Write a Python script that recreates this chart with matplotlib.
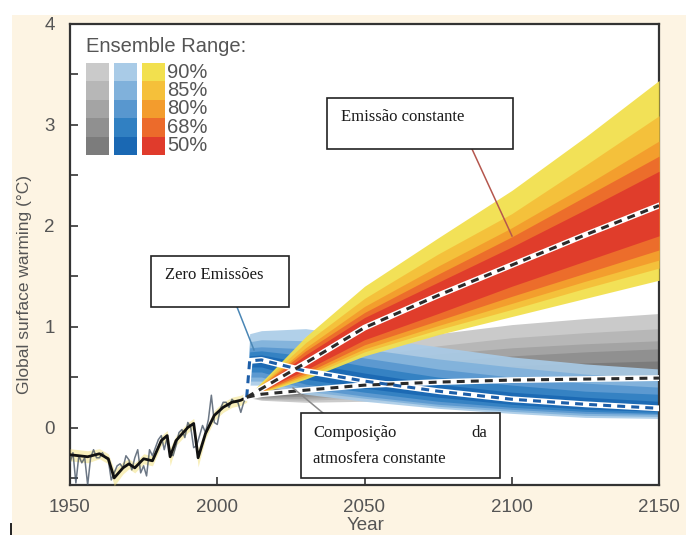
import matplotlib
matplotlib.use("Agg")
import matplotlib.pyplot as plt
from matplotlib.patches import Rectangle
from matplotlib.lines import Line2D
from matplotlib.ticker import MultipleLocator

# ---------------- data ----------------
levels = ["90%", "85%", "80%", "68%", "50%"]

# historical model mean
hist_years = [1950, 1953, 1956, 1960, 1963, 1965, 1968, 1970, 1972, 1975, 1978, 1981,
              1983, 1984, 1986, 1990, 1992, 1993.5, 1996, 1999, 2002, 2005, 2008, 2010]
hist_mean = [-0.27, -0.28, -0.29, -0.26, -0.31, -0.50, -0.40, -0.36, -0.40, -0.31, -0.33, -0.13,
             -0.08, -0.29, -0.13, 0.00, 0.04, -0.30, -0.06, 0.12, 0.20, 0.25, 0.27, 0.30]
hist_spread = [0.06, 0.06, 0.06, 0.05, 0.05, 0.08, 0.06, 0.05, 0.05, 0.05, 0.05, 0.05,
               0.05, 0.09, 0.05, 0.05, 0.05, 0.09, 0.05, 0.05, 0.05, 0.05, 0.05, 0.05]

# observed annual anomalies
obs_years = list(range(1950, 2011))
obs_vals = [-0.35, -0.25, -0.55, -0.28, -0.35, -0.30, -0.57, -0.30, -0.22, -0.30,
            -0.30, -0.25, -0.30, -0.32, -0.52, -0.45, -0.38, -0.36, -0.40, -0.28,
            -0.32, -0.42, -0.30, -0.22, -0.45, -0.38, -0.48, -0.22, -0.28, -0.20,
            -0.12, -0.08, -0.22, -0.10, -0.25, -0.28, -0.18, -0.05, -0.02, -0.10,
            0.05, 0.00, -0.20, -0.18, -0.08, 0.02, -0.05, 0.08, 0.32, 0.05,
            0.03, 0.18, 0.25, 0.25, 0.20, 0.28, 0.25, 0.25, 0.15, 0.25, 0.30]

# constant emissions
ce_years = [2010, 2030, 2050, 2075, 2100, 2125, 2150]
ce_median = [0.30, 0.64, 0.99, 1.31, 1.61, 1.91, 2.20]
ce_upper = [
    [0.30, 0.90, 1.40, 1.88, 2.35, 2.88, 3.44],
    [0.30, 0.84, 1.28, 1.72, 2.12, 2.60, 3.09],
    [0.30, 0.79, 1.20, 1.60, 1.98, 2.40, 2.84],
    [0.30, 0.76, 1.14, 1.52, 1.89, 2.29, 2.69],
    [0.30, 0.72, 1.09, 1.44, 1.79, 2.16, 2.54],
]
ce_lower = [
    [0.30, 0.48, 0.71, 0.92, 1.10, 1.28, 1.46],
    [0.30, 0.50, 0.75, 0.97, 1.17, 1.38, 1.58],
    [0.30, 0.52, 0.78, 1.01, 1.23, 1.45, 1.66],
    [0.30, 0.54, 0.82, 1.06, 1.30, 1.53, 1.76],
    [0.30, 0.57, 0.87, 1.13, 1.40, 1.65, 1.90],
]

# zero emissions
ze_years = [2010, 2011, 2015, 2030, 2050, 2075, 2100, 2125, 2150]
ze_median = [0.30, 0.66, 0.67, 0.56, 0.46, 0.36, 0.28, 0.23, 0.19]
ze_upper = [
    [0.30, 0.93, 0.96, 0.98, 0.90, 0.80, 0.70, 0.63, 0.58],
    [0.30, 0.85, 0.87, 0.86, 0.78, 0.68, 0.60, 0.53, 0.48],
    [0.30, 0.79, 0.80, 0.78, 0.69, 0.58, 0.50, 0.44, 0.40],
    [0.30, 0.75, 0.76, 0.71, 0.61, 0.50, 0.42, 0.36, 0.33],
    [0.30, 0.71, 0.72, 0.64, 0.54, 0.43, 0.35, 0.30, 0.26],
]
ze_lower = [
    [0.30, 0.42, 0.42, 0.33, 0.26, 0.19, 0.14, 0.10, 0.09],
    [0.30, 0.46, 0.46, 0.36, 0.29, 0.21, 0.16, 0.12, 0.11],
    [0.30, 0.50, 0.50, 0.39, 0.31, 0.23, 0.18, 0.14, 0.13],
    [0.30, 0.55, 0.55, 0.43, 0.35, 0.26, 0.20, 0.16, 0.14],
    [0.30, 0.60, 0.60, 0.48, 0.39, 0.30, 0.23, 0.18, 0.16],
]

# constant composition
cc_years = [2010, 2015, 2030, 2050, 2075, 2100, 2125, 2150]
cc_median = [0.30, 0.33, 0.37, 0.42, 0.45, 0.47, 0.48, 0.49]
cc_upper = [
    [0.30, 0.40, 0.60, 0.80, 0.93, 1.02, 1.08, 1.13],
    [0.30, 0.38, 0.54, 0.70, 0.81, 0.89, 0.94, 0.98],
    [0.30, 0.37, 0.50, 0.63, 0.73, 0.79, 0.83, 0.86],
    [0.30, 0.36, 0.46, 0.57, 0.65, 0.71, 0.75, 0.78],
    [0.30, 0.35, 0.43, 0.51, 0.57, 0.61, 0.64, 0.66],
]
cc_lower = [
    [0.30, 0.27, 0.25, 0.26, 0.27, 0.27, 0.27, 0.27],
    [0.30, 0.28, 0.27, 0.29, 0.30, 0.30, 0.30, 0.30],
    [0.30, 0.29, 0.29, 0.31, 0.32, 0.33, 0.33, 0.33],
    [0.30, 0.30, 0.31, 0.33, 0.35, 0.36, 0.36, 0.36],
    [0.30, 0.31, 0.33, 0.36, 0.38, 0.39, 0.40, 0.40],
]

x_ticks = [1950, 2000, 2050, 2100, 2150]
y_ticks = [0, 1, 2, 3, 4]

# ---------------- styling ----------------
grey_cols = ["#cacaca", "#b7b7b7", "#a4a4a4", "#909090", "#7c7c7c"]
blue_cols = ["#a9cbe7", "#80b1db", "#5897cf", "#3180c2", "#1a68b3"]
warm_cols = ["#f2e04e", "#f5c03a", "#f39c2d", "#ec6b2b", "#e03b2c"]
label_grey = "#555555"

W, H = 686, 535
plt.rcParams["font.family"] = ["Liberation Sans", "DejaVu Sans"]

fig = plt.figure(figsize=(W / 100, H / 100), dpi=100)
fig.patch.set_facecolor("white")


def fx(px):
    return px / W


def fy(py):
    return 1 - py / H


# cream backdrop panel
fig.add_artist(Rectangle((fx(12), 0), 1 - fx(12), fy(15), transform=fig.transFigure,
                         facecolor="#fdf4e3", edgecolor="none", zorder=-5))
fig.add_artist(Line2D([fx(11), fx(11)], [fy(524), fy(535)], transform=fig.transFigure,
                      color="#222222", lw=1.4))

ax = fig.add_axes([fx(70), fy(485), fx(659) - fx(70), fy(24) - fy(485)])
ax.set_facecolor("white")


def fan(years, lowers, uppers, cols, alpha=1.0, z=1):
    for lo, hi, c in zip(lowers, uppers, cols):
        ax.fill_between(years, lo, hi, color=c, lw=0, alpha=alpha, zorder=z)


fan(cc_years, cc_lower, cc_upper, grey_cols, z=1)
fan(ze_years, ze_lower, ze_upper, blue_cols, alpha=0.9, z=2)
fan(ce_years, ce_lower, ce_upper, warm_cols, alpha=0.95, z=3)

# historical ensemble and observations
h_lo = [m - s for m, s in zip(hist_mean, hist_spread)]
h_hi = [m + s for m, s in zip(hist_mean, hist_spread)]
ax.fill_between(hist_years, h_lo, h_hi, color="#f0dc6a", alpha=0.45, lw=0, zorder=4)
ax.plot(obs_years, obs_vals, color="#3b4a5c", lw=1.1, alpha=0.75, zorder=5)
ax.plot(hist_years, hist_mean, color="#111111", lw=2.0, zorder=6)


def dashed(years, vals, col):
    ax.plot(years, vals, color="white", lw=4.2, solid_joinstyle="round", zorder=8)
    ax.plot(years, vals, color=col, lw=2.2, dashes=(2.6, 2.0), zorder=9)


dashed(cc_years, cc_median, "#2b2b2b")
dashed(ze_years, ze_median, "#1d5ea8")
dashed(ce_years, ce_median, "#2b2b2b")

ax.set_xlim(1950, 2150)
ax.set_ylim(-0.57, 4.0)
ax.set_xticks(x_ticks)
ax.set_yticks(y_ticks)
ax.yaxis.set_minor_locator(MultipleLocator(0.5))
ax.tick_params(axis="both", which="both", direction="in", length=6, width=1.2,
               color="#333333", labelcolor=label_grey, labelsize=13.5)
ax.tick_params(axis="x", pad=10)
ax.tick_params(axis="y", pad=11)
for s in ax.spines.values():
    s.set_color("#333333")
    s.set_linewidth(1.6)

fig.text(fx(25), fy(285), "Global surface warming (°C)", rotation=90, ha="center",
         va="center", fontsize=12.5, color=label_grey)
fig.text(fx(366), fy(526), "Year", ha="center", va="center", fontsize=13.5,
         color=label_grey)

# ensemble range key
fig.text(fx(86), fy(47), "Ensemble Range:", ha="left", va="center", fontsize=14.5,
         color=label_grey)
row_h = 18.4
for j, cols in enumerate([grey_cols, blue_cols, warm_cols]):
    x0 = [86, 114, 142][j]
    for i, c in enumerate(cols):
        y0 = 63 + i * row_h
        fig.add_artist(Rectangle((fx(x0), fy(y0 + row_h)), fx(23), row_h / H,
                                 transform=fig.transFigure, facecolor=c,
                                 edgecolor="none", zorder=3))
for i, lab in enumerate(levels):
    fig.text(fx(167), fy(63 + (i + 0.5) * row_h), lab, ha="left", va="center",
             fontsize=14.5, color=label_grey, zorder=4)

# annotation boxes


def note_box(x0, y0, x1, y1):
    fig.add_artist(Rectangle((fx(x0), fy(y1)), fx(x1 - x0), (y1 - y0) / H,
                             transform=fig.transFigure, facecolor="white",
                             edgecolor="#222222", lw=1.2, zorder=10))


serif = ["Liberation Serif", "DejaVu Serif"]

fig.add_artist(Line2D([fx(472), fx(512)], [fy(149), fy(236)], transform=fig.transFigure,
                      color="#b5574e", lw=1.1, zorder=9))
note_box(327, 98, 513, 149)
fig.text(fx(341), fy(117), "Emissão constante", family=serif, fontsize=12,
         ha="left", va="center", color="#1a1a1a", zorder=11)

fig.add_artist(Line2D([fx(237), fx(254)], [fy(307), fy(350)], transform=fig.transFigure,
                      color="#4a86b5", lw=1.1, zorder=9))
note_box(151, 256, 289, 307)
fig.text(fx(165), fy(275), "Zero Emissões", family=serif, fontsize=12,
         ha="left", va="center", color="#1a1a1a", zorder=11)

fig.add_artist(Line2D([fx(293), fx(323)], [fy(388), fy(413)], transform=fig.transFigure,
                      color="#8a8a8a", lw=1.1, zorder=9))
note_box(301, 413, 500, 478)
fig.text(fx(313), fy(433), "Composição", family=serif, fontsize=12,
         ha="left", va="center", color="#1a1a1a", zorder=11)
fig.text(fx(487), fy(433), "da", family=serif, fontsize=12,
         ha="right", va="center", color="#1a1a1a", zorder=11)
fig.text(fx(313), fy(459), "atmosfera constante", family=serif, fontsize=12,
         ha="left", va="center", color="#1a1a1a", zorder=11)

fig.savefig("out.png", dpi=100, facecolor=fig.get_facecolor())
